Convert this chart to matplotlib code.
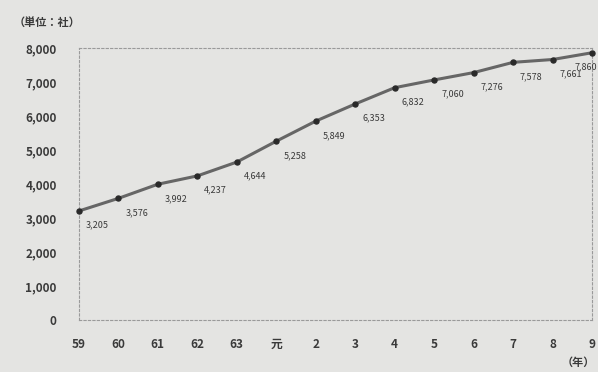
import matplotlib.pyplot as plt
from matplotlib.ticker import FuncFormatter

plt.rcParams['font.family'] = ['Noto Sans CJK JP', 'DejaVu Sans']

# 年次と件数
years = ['59', '60', '61', '62', '63', '元', '2', '3', '4', '5', '6', '7', '8', '9']
counts = [3205, 3576, 3992, 4237, 4644, 5258, 5849, 6353, 6832, 7060, 7276, 7578, 7661, 7860]

bg = '#e4e4e2'
ink = '#3a3a3a'

fig = plt.figure(figsize=(5.98, 3.72), dpi=100, facecolor=bg)
ax = fig.add_axes([0.132, 0.14, 0.858, 0.731], facecolor=bg)

x = list(range(len(years)))
ax.plot(x, counts, color='#666666', lw=2.2, zorder=2, clip_on=False)
ax.plot(x, counts, 'o', color='#2a2a2a', ms=3.6, zorder=3, clip_on=False)

for xi, v in zip(x, counts):
    if xi == x[-1]:
        # 右端は枠内に収める
        ax.annotate(f'{v:,}', (xi, v), xytext=(4, -7), textcoords='offset points',
                    ha='right', va='top', fontsize=6.5, color=ink, annotation_clip=False)
    else:
        ax.annotate(f'{v:,}', (xi, v), xytext=(5, -7), textcoords='offset points',
                    ha='left', va='top', fontsize=6.5, color=ink, annotation_clip=False)

ax.set_xlim(0, len(years) - 1)
ax.set_ylim(0, 8000)
ax.set_yticks(range(0, 8001, 1000))
ax.yaxis.set_major_formatter(FuncFormatter(lambda v, p: f'{int(v):,}'))
ax.set_xticks(x)
ax.set_xticklabels(years)
ax.tick_params(length=0, labelsize=8.5, colors=ink)
ax.tick_params(axis='y', pad=16)
ax.tick_params(axis='x', pad=13)
for lab in ax.get_xticklabels() + ax.get_yticklabels():
    lab.set_fontweight('bold')

for s in ax.spines.values():
    s.set_color('#9a9a9a')
    s.set_linestyle((0, (2, 2)))
    s.set_linewidth(0.8)

fig.text(0.022, 0.94, '（単位：社）', fontsize=8, color=ink, fontweight='bold', va='center')
fig.text(0.995, 0.008, '（年）', fontsize=8, color=ink, fontweight='bold', ha='right', va='bottom')

fig.savefig('out.png', dpi=100, facecolor=bg)
